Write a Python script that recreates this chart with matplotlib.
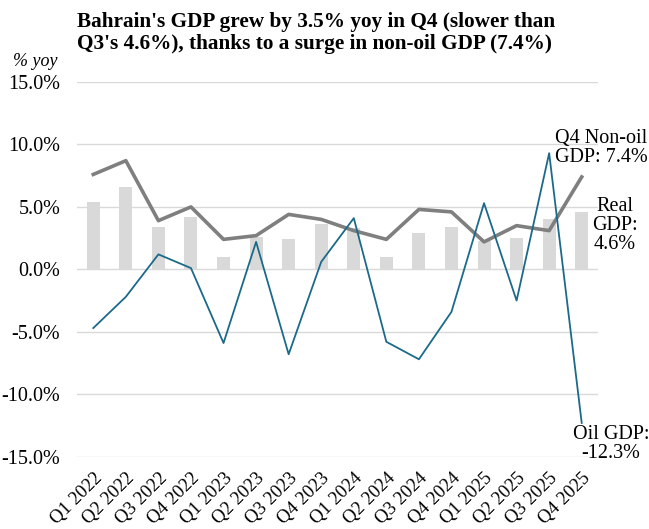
import numpy as np
import matplotlib
matplotlib.use("Agg")
import matplotlib.pyplot as plt
from matplotlib.ticker import FixedLocator, FuncFormatter

# quarters on the x axis
quarters = ["Q1 2022", "Q2 2022", "Q3 2022", "Q4 2022",
            "Q1 2023", "Q2 2023", "Q3 2023", "Q4 2023",
            "Q1 2024", "Q2 2024", "Q3 2024", "Q4 2024",
            "Q1 2025", "Q2 2025", "Q3 2025", "Q4 2025"]

# % yoy
real_gdp = [5.4, 6.6, 3.4, 4.2, 1.0, 2.6, 2.4, 3.6,
            3.3, 1.0, 2.9, 3.4, 2.3, 2.5, 4.0, 4.6]
non_oil_gdp = [7.6, 8.7, 3.9, 5.0, 2.4, 2.7, 4.4, 4.0,
               3.1, 2.4, 4.8, 4.6, 2.2, 3.5, 3.1, 7.4]
oil_gdp = [-4.7, -2.2, 1.2, 0.1, -5.9, 2.2, -6.8, 0.6,
           4.1, -5.8, -7.2, -3.4, 5.3, -2.5, 9.3, -12.3]

y_ticks = [-15, -10, -5, 0, 5, 10, 15]

plt.rcParams["font.family"] = ["Liberation Serif", "DejaVu Serif"]
plt.rcParams["axes.unicode_minus"] = False

fig = plt.figure(figsize=(6.49, 5.29), dpi=100)
ax = fig.add_axes([77 / 649, 1 - 456.7 / 529, (598 - 77) / 649, (456.7 - 82) / 529])

x = np.arange(len(quarters))

# bars first, then lines on top
ax.bar(x, real_gdp, width=0.4, color="#d9d9d9", zorder=2)
ax.plot(x, non_oil_gdp, color="#7f7f7f", linewidth=2.6, zorder=3)
ax.plot(x, oil_gdp, color="#1c6a89", linewidth=1.3, zorder=4)

ax.set_xlim(-0.5, len(quarters) - 0.5)
ax.set_ylim(-15, 15)
ax.yaxis.set_major_locator(FixedLocator(y_ticks))
ax.yaxis.set_major_formatter(FuncFormatter(lambda v, p: f"{v:.1f}%"))
ax.grid(axis="y", color="#d9d9d9", linewidth=1.0, zorder=0)
ax.set_axisbelow(True)

ax.set_xticks(x)
ax.set_xticklabels(quarters, rotation=45, ha="right", rotation_mode="anchor")
ax.tick_params(axis="y", length=0, labelsize=14.5, pad=12)
ax.tick_params(axis="x", length=0, labelsize=13.5, pad=9)

for s in ax.spines.values():
    s.set_visible(False)

# title and axis unit
fig.text(77 / 649, 1 - 12 / 529,
         "Bahrain's GDP grew by 3.5% yoy in Q4 (slower than\n"
         "Q3's 4.6%), thanks to a surge in non-oil GDP (7.4%)",
         ha="left", va="top", fontsize=15.3, fontweight="bold", linespacing=1.15)
fig.text(35 / 649, 1 - 62 / 529, "% yoy", ha="center", va="center",
         fontsize=13, style="italic")

# end labels
fig.text(601 / 649, 1 - 148 / 529, "Q4 Non-oil\nGDP: 7.4%", ha="center",
         va="center", fontsize=14.5, linespacing=1.0)
fig.text(615 / 649, 1 - 225 / 529, "Real\nGDP:\n4.6%", ha="center",
         va="center", fontsize=14.5, linespacing=1.0)
fig.text(611 / 649, 1 - 444 / 529, "Oil GDP:\n-12.3%", ha="center",
         va="center", fontsize=14.5, linespacing=1.0)

fig.savefig("out.png", dpi=100)
